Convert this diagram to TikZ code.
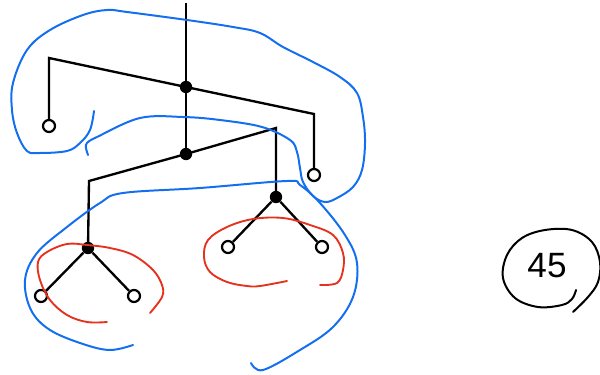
\documentclass[tikz,border=0pt]{standalone}
\usepackage{fontspec}
\setmainfont{Liberation Sans}
\begin{document}
\begin{tikzpicture}[x=0.03cm,y=-0.03cm,
  edge/.style={line width=2pt,black},
  dot/.style={circle,fill=black,inner sep=0pt,minimum size=0.37cm},
  leaf/.style={circle,draw=black,line width=1.9pt,fill=white,inner sep=0pt,minimum size=0.36cm},
  bluestroke/.style={line width=1.7pt,draw=penblue,line cap=round,line join=round},
  redstroke/.style={line width=1.6pt,draw=penred,line cap=round,line join=round},
  inkstroke/.style={line width=1.7pt,draw=black,line cap=round,line join=round}]
\definecolor{penblue}{RGB}{20,110,240}
\definecolor{penred}{RGB}{228,50,30}
\useasboundingbox (0,0) rectangle (600,375);

% tree
\coordinate (top) at (186,3);
\coordinate (cA1) at (49,58);
\coordinate (cA2) at (314,114);
\coordinate (cB1) at (89,181);
\coordinate (cB2) at (276,128);
\node[dot] (A) at (186,87) {};
\node[dot] (B) at (186,154) {};
\node[dot] (C) at (88,248) {};
\node[dot] (D) at (276,197) {};
\node[leaf] (l1) at (49,126) {};
\node[leaf] (l2) at (314,175) {};
\node[leaf] (l3) at (41,296) {};
\node[leaf] (l4) at (134,296) {};
\node[leaf] (l5) at (228,247) {};
\node[leaf] (l6) at (322,247) {};

\draw[edge] (top) -- (A);
\draw[edge,line join=miter] (A.center) -- (cA1) -- (l1);
\draw[edge,line join=miter] (A.center) -- (cA2) -- (l2);
\draw[edge] (A) -- (B);
\draw[edge,line join=miter] (B.center) -- (cB1) -- (C.center);
\draw[edge,line join=miter] (B.center) -- (cB2) -- (D.center);
\draw[edge] (C) -- (l3);
\draw[edge] (C) -- (l4);
\draw[edge] (D) -- (l5);
\draw[edge] (D) -- (l6);

% blue stroke 1 (upper loop)
\draw[bluestroke] plot[smooth,tension=0.6] coordinates {
 (94,111) (90,130) (80,143) (67,151) (40,153) (27,151) (17,133) (12,110) (13,83)
 (27,50) (50,30) (83,15) (107,10) (127,12) (187,20) (233,27) (260,33) (283,47)
 (313,62) (340,77) (357,93) (363,117) (365,143) (362,170) (353,187) (337,198)
 (325,202) (313,196) (303,182) (300,168) (297,152) (290,140) (262,127) (220,120)
 (183,117) (140,118) (97,137) (87,143) (86,148) (88,155)};

% blue stroke 2 (lower loop)
\draw[bluestroke] plot[smooth,tension=0.6] coordinates {
 (133,345) (110,350) (83,344) (50,330) (31,310) (25,280) (37,253) (67,227)
 (100,203) (123,193) (200,188) (287,181) (300,185) (320,203) (345,235) (357,263)
 (353,297) (333,327) (300,350) (263,370) (251,363)};

% red stroke around C
\draw[redstroke] plot[smooth,tension=0.6] coordinates {
 (107,322) (87,322) (67,315) (50,300) (40,280) (38,262) (47,252) (67,244)
 (87,245) (110,248) (133,255) (153,270) (162,285) (162,297) (150,313)};

% red stroke around D
\draw[redstroke] plot[smooth,tension=0.6] coordinates {
 (287,281) (260,286) (247,286) (227,282) (210,272) (204,257) (208,240) (227,227)
 (253,219) (283,218) (310,225) (333,235) (343,253) (343,270) (337,283) (320,285)};

% circled 45
\draw[inkstroke] plot[smooth,tension=0.6] coordinates {
 (576,290) (572,299) (562,305) (538,307) (515,298) (503,278) (507,255) (522,238)
 (545,230) (572,230) (592,242) (600,262) (598,282) (588,297) (573,312)};
\node[font=\fontsize{30}{30}\selectfont,inner sep=0pt] (n45) at (547,266) {45};
\end{tikzpicture}
\end{document}
